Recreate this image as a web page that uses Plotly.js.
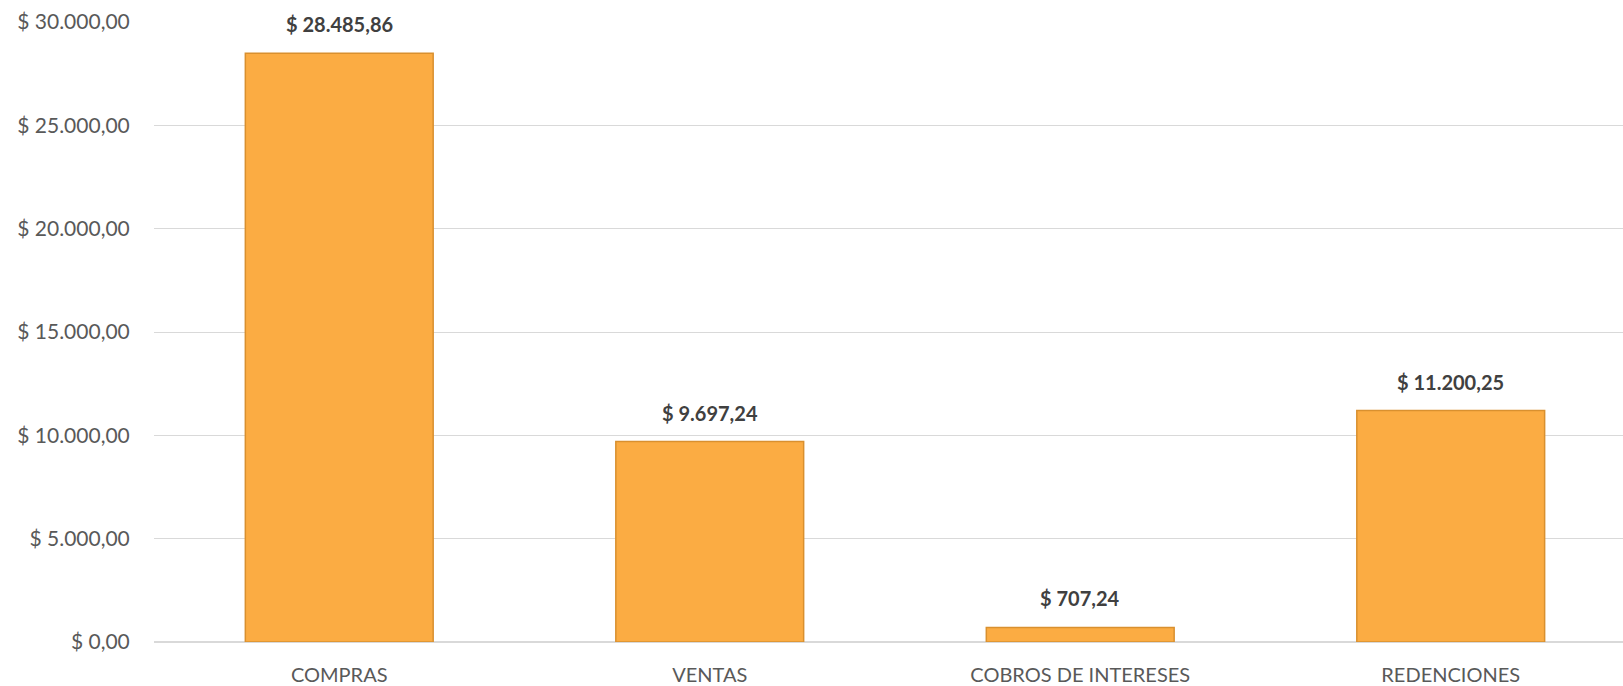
<!DOCTYPE html>
<html>
<head>
<meta charset="utf-8">
<script src="https://cdn.plot.ly/plotly-3.0.1.min.js"></script>
<style>html,body{margin:0;padding:0;background:#fff;}#chart{width:1623px;height:686px;}</style>
</head>
<body>
<div id="chart"></div>
<script>
const categories = ["COMPRAS", "VENTAS", "COBROS DE INTERESES", "REDENCIONES"];
const values = [28485.86, 9697.24, 707.24, 11200.25];
const valueLabels = ["$ 28.485,86", "$ 9.697,24", "$ 707,24", "$ 11.200,25"];
const yTickVals = [0, 5000, 10000, 15000, 20000, 25000, 30000];
const yTickText = ["$ 0,00", "$ 5.000,00", "$ 10.000,00", "$ 15.000,00", "$ 20.000,00", "$ 25.000,00", "$ 30.000,00"];

const FONT = "Lato, 'Open Sans', sans-serif";

const trace = {
  type: "bar",
  x: categories,
  y: values,
  marker: { color: "#FBAC43", line: { color: "#D9902F", width: 1.5 } },
  hoverinfo: "x+y"
};

const annotations = categories.map((c, i) => ({
  x: c, y: values[i], xref: "x", yref: "y",
  text: "<b>" + valueLabels[i] + "</b>",
  showarrow: false, yanchor: "middle", yshift: 29,
  font: { family: FONT, size: 20, color: "#404040" }
}));

const layout = {
  width: 1623, height: 686,
  margin: { l: 154, r: 0, t: 21.5, b: 44, pad: 0 },
  paper_bgcolor: "#ffffff", plot_bgcolor: "#ffffff",
  showlegend: false,
  bargap: 0.493,
  font: { family: FONT, size: 20, color: "#595959" },
  xaxis: {
    type: "category",
    range: [-0.5, 3.465],
    showgrid: false, showline: false, zeroline: false,
    ticks: "outside", ticklen: 15, tickcolor: "rgba(0,0,0,0)",
    tickfont: { family: FONT, size: 20, color: "#595959" }
  },
  yaxis: {
    range: [0, 30000],
    tickvals: yTickVals, ticktext: yTickText,
    showgrid: true, gridcolor: "#d9d9d9", gridwidth: 1,
    zeroline: true, zerolinecolor: "#d9d9d9", zerolinewidth: 2,
    showline: false,
    ticks: "outside", ticklen: 19, tickcolor: "rgba(0,0,0,0)",
    tickfont: { family: FONT, size: 21, color: "#595959" }
  },
  annotations: annotations
};

Plotly.newPlot("chart", [trace], layout, { displayModeBar: false, staticPlot: true });
</script>
</body>
</html>
